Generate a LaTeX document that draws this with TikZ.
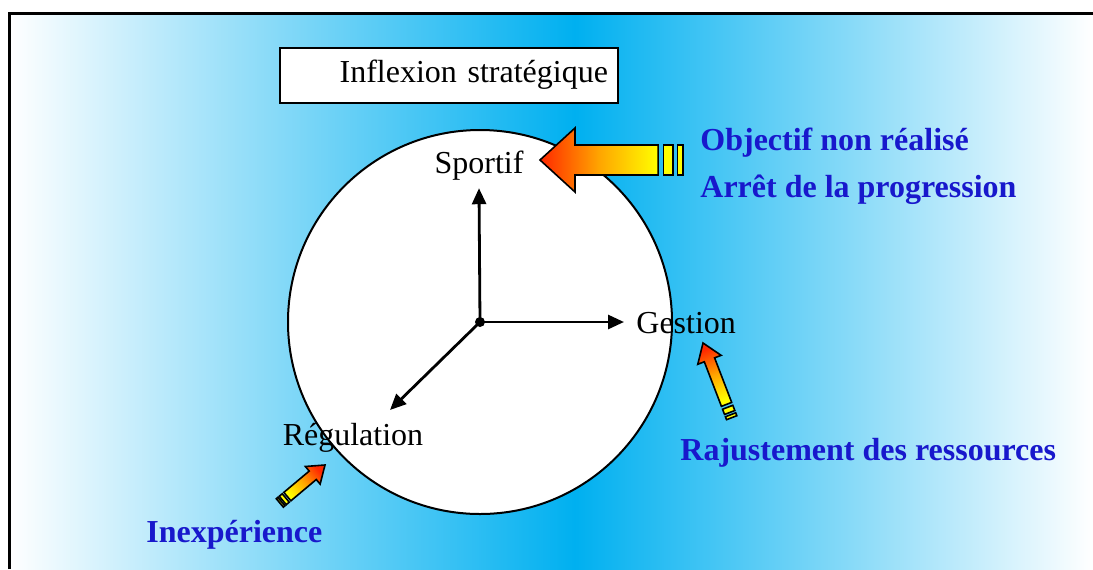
\documentclass[tikz,border=0pt]{standalone}
\usepackage{fontspec}
\setmainfont{Liberation Serif}
\usetikzlibrary{arrows.meta,positioning}

\definecolor{skyblue}{RGB}{0,176,240}
\definecolor{labelblue}{RGB}{24,24,204}
\definecolor{tipred}{RGB}{255,40,0}
\definecolor{midorange}{RGB}{255,165,0}
\definecolor{tailyellow}{RGB}{255,255,0}

% block arrow: tip, direction, shaft length, half shaft, head length, half head
\newcommand{\fatarrow}[6]{%
  \pgfmathsetmacro{\shadeangle}{#2-90}
  \begin{scope}[shift={#1}, rotate=#2]
    \draw[arrowline, top color=tipred, bottom color=tailyellow, middle color=midorange, shading angle=\shadeangle]
      (0,0) -- (-#5,#6) -- (-#5,#4) -- ({-#5-0.77*#3},#4) -- ({-#5-0.77*#3},-#4) -- (-#5,-#4) -- (-#5,-#6) -- cycle;
    \draw[arrowline, fill=tailyellow] ({-#5-0.82*#3},-#4) rectangle ({-#5-0.91*#3},#4);
    \draw[arrowline, fill=tailyellow] ({-#5-0.95*#3},-#4) rectangle ({-#5-#3},#4);
  \end{scope}}

\begin{document}
\begin{tikzpicture}[x=0.5pt, y=-0.5pt, every node/.style={font=\fontsize{16}{19}\selectfont},
  titlebox/.style={draw, line width=1pt, fill=white, minimum height=27.5pt, text width=159pt, inner xsep=5pt, align=right},
  axislabel/.style={inner sep=4pt},
  cause/.style={font=\fontsize{16}{19}\selectfont\bfseries, text=labelblue, anchor=base west, inner sep=0pt},
  axis/.style={line width=1.4pt, -{Triangle[length=8pt,width=7pt]}},
  arrowline/.style={line width=0.8pt}]
\useasboundingbox (0,0) rectangle (1093,569);

% background
\shade[left color=white, right color=skyblue] (9,13) rectangle (575,569);
\shade[left color=skyblue, right color=white] (575,13) rectangle (1093,569);
\draw[line width=1.5pt] (9,569) -- (9,13) -- (1093,13);

\node[titlebox] (titre) at (449,75) {Inflexion stratégique};

% circle and axes
\coordinate (o) at (480,322);
\draw[line width=1pt, fill=white] (o) circle (192);
\node[axislabel, anchor=base] (sportif) at (479,173) {Sportif};
\node[axislabel, anchor=base west, inner sep=6pt] (gestion) at (624,333) {Gestion};
\node[axislabel, anchor=base] (regulation) at (353,445) {Régulation};
\coordinate (regtip) at (390,410);
\draw[axis] (o) -- (sportif.south);
\draw[axis] (o) -- (o -| gestion.west);
\draw[axis] (o) -- (regtip);
\fill (o) circle (5);

% causes
\node[cause] (objectif) at (700,150) {Objectif non réalisé};
\node[cause] (arret) at (700,197) {Arrêt de la progression};
\node[cause] (rajustement) at (680,460) {Rajustement des ressources};
\node[cause] (inexperience) at (146,542) {Inexpérience};

\fatarrow{(540,160)}{180}{108}{15}{35}{32}
\fatarrow{(703,343)}{111}{62}{5.5}{18}{12.5}
\fatarrow{(325,465)}{40}{43}{5.5}{16}{11.5}
\end{tikzpicture}
\end{document}
